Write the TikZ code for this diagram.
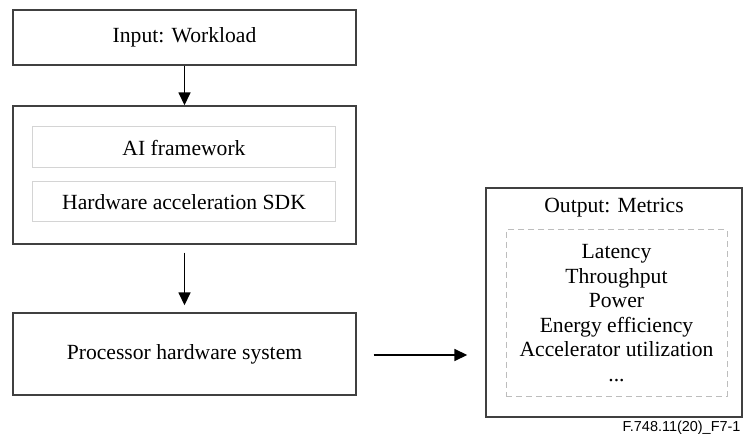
\documentclass[tikz,border=0pt]{standalone}
\usepackage{fontspec}
\setmainfont{Liberation Serif}
\newfontfamily\figfont{Liberation Sans}
\usetikzlibrary{arrows.meta}
\definecolor{boxline}{HTML}{404040}
\definecolor{subline}{HTML}{D4D4D4}
\definecolor{dashline}{HTML}{BDBDBD}
\tikzset{
  blockbox/.style={draw=boxline,line width=1.4bp,minimum width=343bp,inner sep=0pt},
  subbox/.style={draw=subline,line width=1bp,minimum width=302bp,inner sep=0pt},
  flow/.style={->,line width=1.6bp,black}
}
\begin{document}
\begin{tikzpicture}[x=1bp,y=-1bp,>={Triangle[length=13bp,width=12bp]},
  font=\fontsize{21.7}{24.7}\selectfont]
  \useasboundingbox (0,0) rectangle (745,436);
  % left column
  \node[blockbox,minimum height=55bp](input)at(184.5,37.5){Input: Workload};
  \node[blockbox,minimum height=138bp](stack)at(184.5,175){};
  \node[subbox,minimum height=41bp](aifw)at(184,147.5){AI framework};
  \node[subbox,minimum height=40bp](sdk)at(184,202){Hardware acceleration SDK};
  \node[blockbox,minimum height=82bp](proc)at(184.5,354){Processor hardware system};
  % output
  \node[draw=boxline,line width=1.4bp,minimum width=256bp,minimum height=229bp,inner sep=0pt](out)at(614,302.5){};
  \node(outtitle)at(614,208){Output: Metrics};
  \node[draw=dashline,dashed,line width=1bp,dash pattern=on 6bp off 4bp,minimum width=221bp,minimum height=166bp,
    align=center,inner sep=0pt](metrics)at(616.5,313)
    {Latency\\Throughput\\Power\\Energy efficiency\\Accelerator utilization\\...};
  % arrows
  \draw[flow](input)--(stack);
  \draw[flow,shorten <=8bp,shorten >=7bp](stack)--(proc);
  \draw[flow,shorten <=17bp,shorten >=18bp](proc.east|-0,355)--(out.west|-0,355);
  \node[anchor=east,font=\figfont\fontsize{14.5}{16}\selectfont](figno)at(744,428){F.748.11(20)\_F7-1};
\end{tikzpicture}
\end{document}
